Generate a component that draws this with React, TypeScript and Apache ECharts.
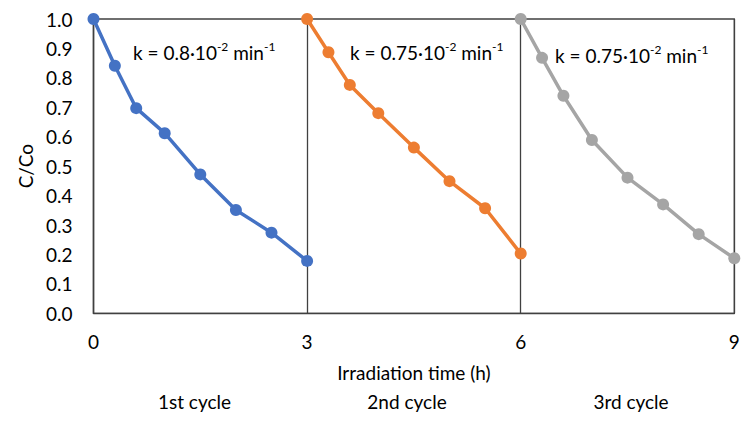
import React, { useEffect, useRef } from "react";
import * as echarts from "echarts";

const cycle1X = [0, 0.3, 0.6, 1.0, 1.5, 2.0, 2.5, 3.0];
const cycle1Y = [1.0, 0.841, 0.697, 0.612, 0.472, 0.351, 0.274, 0.178];
const cycle2X = [3.0, 3.3, 3.6, 4.0, 4.5, 5.0, 5.5, 6.0];
const cycle2Y = [1.0, 0.887, 0.776, 0.68, 0.563, 0.449, 0.357, 0.203];
const cycle3X = [6.0, 6.3, 6.6, 7.0, 7.5, 8.0, 8.5, 9.0];
const cycle3Y = [1.0, 0.868, 0.739, 0.589, 0.461, 0.37, 0.269, 0.187];

const cycleLabels = ["1st cycle", "2nd cycle", "3rd cycle"];
const rateMantissa = ["0.8", "0.75", "0.75"];
const colors = ["#4472C4", "#ED7D31", "#A5A5A5"];

const FONT = "Lato";
const FS = 19;

export default function App() {
  const ref = useRef<HTMLDivElement>(null);
  useEffect(() => {
    document.body.style.margin = "0";
    const chart = echarts.init(ref.current!, null, { renderer: "svg" });
    const xs = [cycle1X, cycle2X, cycle3X];
    const ys = [cycle1Y, cycle2Y, cycle3Y];
    const series = xs.map((x, i) => ({
      type: "line",
      data: x.map((v, j) => [v, ys[i][j]]),
      symbol: "circle",
      symbolSize: 12,
      lineStyle: { width: 3.5, color: colors[i] },
      itemStyle: { color: colors[i] },
      z: 3,
    }));
    const cycleCenters = [194.5, 407, 631];
    const kPos = [
      [133, 52],
      [350, 52],
      [555, 55],
    ];
    const graphics: any[] = [];
    cycleLabels.forEach((t, i) => {
      graphics.push({
        type: "text",
        x: cycleCenters[i],
        y: 401,
        style: {
          text: t,
          font: `${FS}px ${FONT}`,
          fill: "#000",
          align: "center",
          verticalAlign: "middle",
        },
      });
    });
    rateMantissa.forEach((m, i) => {
      graphics.push({
        type: "text",
        x: kPos[i][0],
        y: kPos[i][1],
        style: {
          text: `{a|k = ${m}·10}{s|-2}{a| min}{s|-1}`,
          verticalAlign: "middle",
          align: "left",
          rich: {
            a: { fontFamily: FONT, fontSize: FS, fill: "#000", lineHeight: 24 },
            s: {
              fontFamily: FONT,
              fontSize: 12,
              fill: "#000",
              lineHeight: 24,
              verticalAlign: "top",
              padding: [0, 0, 8, 0],
            },
          },
        },
      });
    });
    chart.setOption({
      animation: false,
      grid: {
        left: 93.5,
        right: 16.7,
        top: 19,
        bottom: 107.7,
        show: true,
        borderColor: "#404040",
        borderWidth: 1.3,
        backgroundColor: "transparent",
      },
      xAxis: {
        type: "value",
        min: 0,
        max: 9,
        interval: 3,
        name: "Irradiation time (h)",
        nameLocation: "middle",
        nameGap: 50,
        nameTextStyle: { fontFamily: FONT, fontSize: FS, color: "#000" },
        axisLine: { show: true, lineStyle: { color: "#404040", width: 1.3 } },
        axisTick: { show: false },
        axisLabel: { fontFamily: FONT, fontSize: FS, color: "#000", margin: 19 },
        splitLine: { show: true, lineStyle: { color: "#404040", width: 1.3 } },
      },
      yAxis: {
        type: "value",
        min: 0,
        max: 1,
        interval: 0.1,
        name: "C/Co",
        nameLocation: "middle",
        nameGap: 58,
        nameTextStyle: { fontFamily: FONT, fontSize: FS, color: "#000" },
        axisLine: { show: true, lineStyle: { color: "#404040", width: 1.3 } },
        axisTick: { show: false },
        axisLabel: {
          fontFamily: FONT,
          fontSize: FS,
          color: "#000",
          margin: 21,
          formatter: (v: number) => v.toFixed(1),
        },
        splitLine: { show: false },
      },
      series,
      graphic: graphics,
    });
    return () => chart.dispose();
  }, []);
  return <div ref={ref} style={{ width: 751, height: 421 }} />;
}
